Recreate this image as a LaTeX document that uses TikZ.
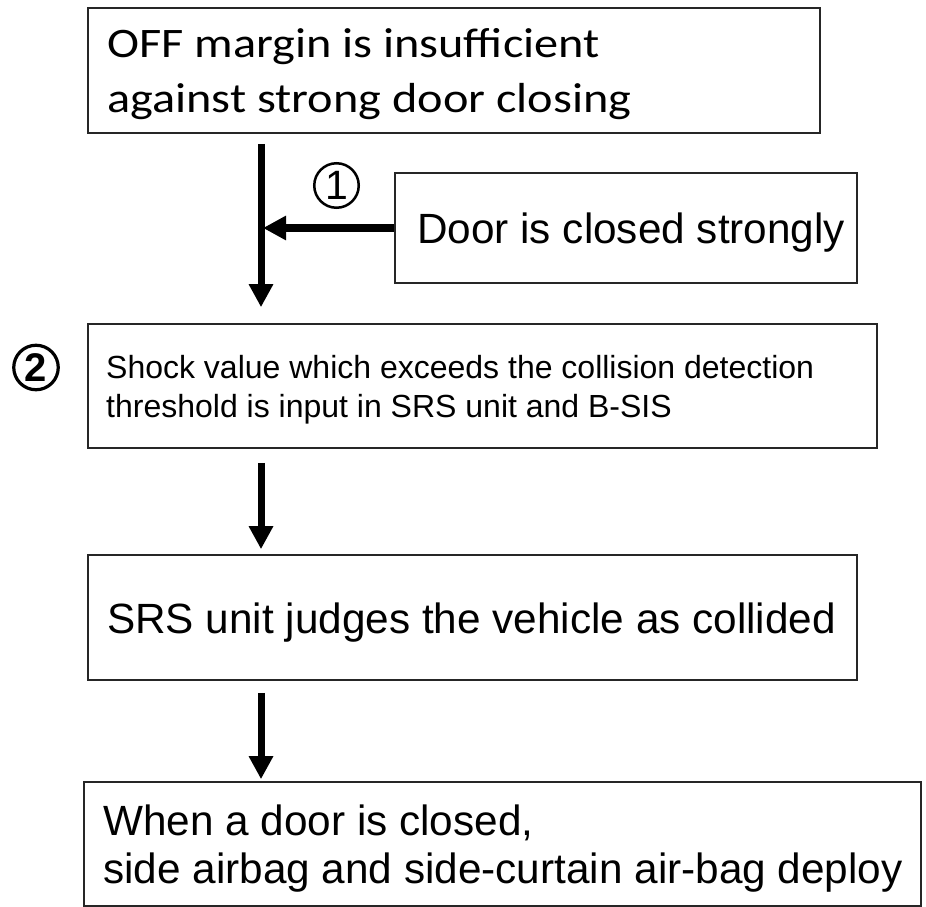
\documentclass[tikz,border=0pt]{standalone}
\usepackage{fontspec}
\setmainfont{Liberation Sans}
\newfontfamily\calibrifont{Carlito}
\usetikzlibrary{arrows.meta}
\tikzset{
  box/.style={draw=black!85, line width=1.6pt, rectangle, inner sep=0pt},
  lbl/.style={anchor=base west, inner sep=0pt},
  bigtext/.style={lbl, font=\fontsize{42.3}{50}\selectfont},
  smalltext/.style={lbl, font=\fontsize{32}{38}\selectfont},
  titletext/.style={lbl, xscale=1.15, font=\calibrifont\fontsize{42}{50}\selectfont},
  flow/.style={line width=7pt, -{Triangle[length=23pt,width=23pt]}},
  numcirc/.style={circle, draw=black, inner sep=0pt, minimum size=44.5pt,
    font=\fontsize{41}{41}\selectfont},
}
\begin{document}
\begin{tikzpicture}[x=1pt, y=-1pt]
  \useasboundingbox (0,0) rectangle (926,907);

  % boxes
  \node[box, minimum width=732pt, minimum height=125pt] (b1) at (454,70.5) {};
  \node[box, minimum width=462pt, minimum height=110pt] (door) at (626,228) {};
  \node[box, minimum width=789pt, minimum height=124pt] (b3) at (482.5,386) {};
  \node[box, minimum width=769pt, minimum height=125pt] (b4) at (472.5,617.5) {};
  \node[box, minimum width=837pt, minimum height=124pt] (b5) at (502.5,844) {};

  % texts
  \node[titletext] (t1a) at (107,58) {OFF margin is insufficient};
  \node[titletext] (t1b) at (107,112) {against strong door closing};
  \node[bigtext] (t2) at (417,243) {Door is closed strongly};
  \node[smalltext] (t3a) at (106,378) {Shock value which exceeds the collision detection};
  \node[smalltext] (t3b) at (106,417) {threshold is input in SRS unit and B-SIS};
  \node[bigtext] (t4) at (107,633) {SRS unit judges the vehicle as collided};
  \node[bigtext] (t5a) at (103,835) {When a door is closed,};
  \node[bigtext] (t5b) at (103,883) {side airbag and side-curtain air-bag deploy};

  % step numbers
  \node[numcirc, line width=2.5pt] (n1) at (336.5,185.5) {1};
  \node[numcirc, line width=3.2pt, font=\bfseries\fontsize{40}{40}\selectfont] (n2) at (36,367.5) {2};

  % connectors
  \coordinate (col) at (261,0);
  \draw[flow, shorten <=10pt, shorten >=16pt] (b1.south -| col) -- (b3.north -| col);
  \draw[flow, line width=8pt, shorten >=2pt] (door.west) -- (door.west -| col);
  \draw[flow, shorten <=14pt, shorten >=5pt] (b3.south -| col) -- (b4.north -| col);
  \draw[flow, shorten <=12pt, shorten >=2pt] (b4.south -| col) -- (b5.north -| col);
\end{tikzpicture}
\end{document}
